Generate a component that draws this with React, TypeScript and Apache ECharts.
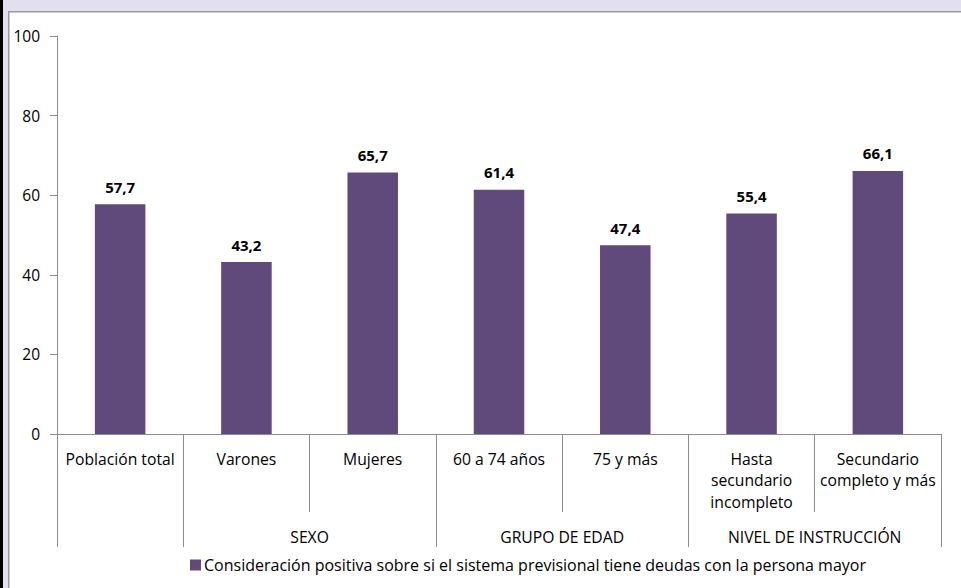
import React, { useEffect, useRef } from 'react';
import * as echarts from 'echarts';

const categories = [
  'Población total',
  'Varones',
  'Mujeres',
  '60 a 74 años',
  '75 y más',
  'Hasta\nsecundario\nincompleto',
  'Secundario\ncompleto y más',
];
const values = [57.7, 43.2, 65.7, 61.4, 47.4, 55.4, 66.1];
const groups = ['SEXO', 'GRUPO DE EDAD', 'NIVEL DE INSTRUCCIÓN'];
const groupCenters = [2, 4, 6];
const groupBoundaries = [0, 1, 3, 5, 7];
const yTicks = [0, 20, 40, 60, 80, 100];
const seriesName =
  'Consideración positiva sobre si el sistema previsional tiene deudas con la persona mayor';

const FONT = 'Open Sans';
const BAR = '#604a7b';
const AXIS = '#8c8c8c';

export default function App() {
  const ref = useRef<HTMLDivElement>(null);
  useEffect(() => {
    if (!ref.current) return;
    const chart = echarts.init(ref.current, undefined, { renderer: 'svg' });
    const grid = { left: 57, right: 20, top: 36, bottom: 154 };
    chart.setOption({
      animation: false,
      backgroundColor: '#ffffff',
      textStyle: { fontFamily: FONT },
      grid: [grid, { ...grid }],
      graphic: [
        { type: 'rect', shape: { x: 0, y: 0, width: 961, height: 11 }, style: { fill: '#e2dfee' }, silent: true },
        { type: 'rect', shape: { x: 0, y: 0, width: 8, height: 588 }, style: { fill: '#e2dfee' }, silent: true },
        { type: 'rect', shape: { x: 0, y: 0, width: 3, height: 588 }, style: { fill: '#000000' }, silent: true },
        { type: 'rect', shape: { x: 8, y: 11, width: 953, height: 1.5 }, style: { fill: '#9a9a9a' }, silent: true },
        { type: 'rect', shape: { x: 8, y: 11, width: 1.5, height: 577 }, style: { fill: '#9a9a9a' }, silent: true },
      ],
      legend: {
        show: true,
        left: 185,
        top: 552,
        itemWidth: 11,
        itemHeight: 11,
        itemGap: 4,
        icon: 'rect',
        textStyle: { fontFamily: FONT, fontSize: 16, color: '#000', padding: [0, 0, 0, -2] },
        data: [seriesName],
      },
      xAxis: [
        {
          type: 'category',
          gridIndex: 0,
          data: categories,
          axisLine: { show: true, lineStyle: { color: AXIS, width: 1 } },
          axisTick: { show: true, alignWithLabel: false, length: 78, lineStyle: { color: AXIS } },
          axisLabel: {
            interval: 0,
            margin: 14,
            fontFamily: FONT,
            fontSize: 15.7,
            lineHeight: 21.5,
            color: '#000',
            align: 'center',
          },
        },
        {
          type: 'value',
          gridIndex: 1,
          min: 0,
          max: 7,
          interval: 1,
          axisLine: { show: false },
          splitLine: { show: false },
          axisTick: {
            show: true,
            customValues: groupBoundaries,
            length: 113,
            lineStyle: { color: AXIS },
          },
          axisLabel: {
            customValues: groupCenters,
            margin: 95,
            fontFamily: FONT,
            fontSize: 15.7,
            color: '#000',
            formatter: (v: number) => {
              const i = groupCenters.indexOf(v);
              return i >= 0 ? groups[i] : '';
            },
          },
        },
      ],
      yAxis: [
        {
          type: 'value',
          gridIndex: 0,
          min: 0,
          max: 100,
          interval: 20,
          axisLine: { show: true, lineStyle: { color: AXIS } },
          axisTick: { show: true, length: 7, lineStyle: { color: AXIS } },
          splitLine: { show: false },
          axisLabel: {
            margin: 17,
            fontFamily: FONT,
            fontSize: 15.5,
            color: '#000',
            formatter: (v: number) => (yTicks.includes(v) ? String(v) : ''),
          },
        },
        { type: 'value', gridIndex: 1, min: 0, max: 100, show: false },
      ],
      series: [
        {
          name: seriesName,
          type: 'bar',
          xAxisIndex: 0,
          yAxisIndex: 0,
          data: values,
          barWidth: '40%',
          itemStyle: { color: BAR },
          label: {
            show: true,
            position: 'top',
            distance: 10,
            fontFamily: FONT,
            fontSize: 15,
            fontWeight: 'bold',
            color: '#000',
            formatter: (p: any) => String(p.value.toFixed(1)).replace('.', ','),
          },
        },
      ],
    });
    return () => chart.dispose();
  }, []);
  return (
    <div
      ref={ref}
      style={{ position: 'fixed', left: 0, top: 0, width: 961, height: 588 }}
    />
  );
}
